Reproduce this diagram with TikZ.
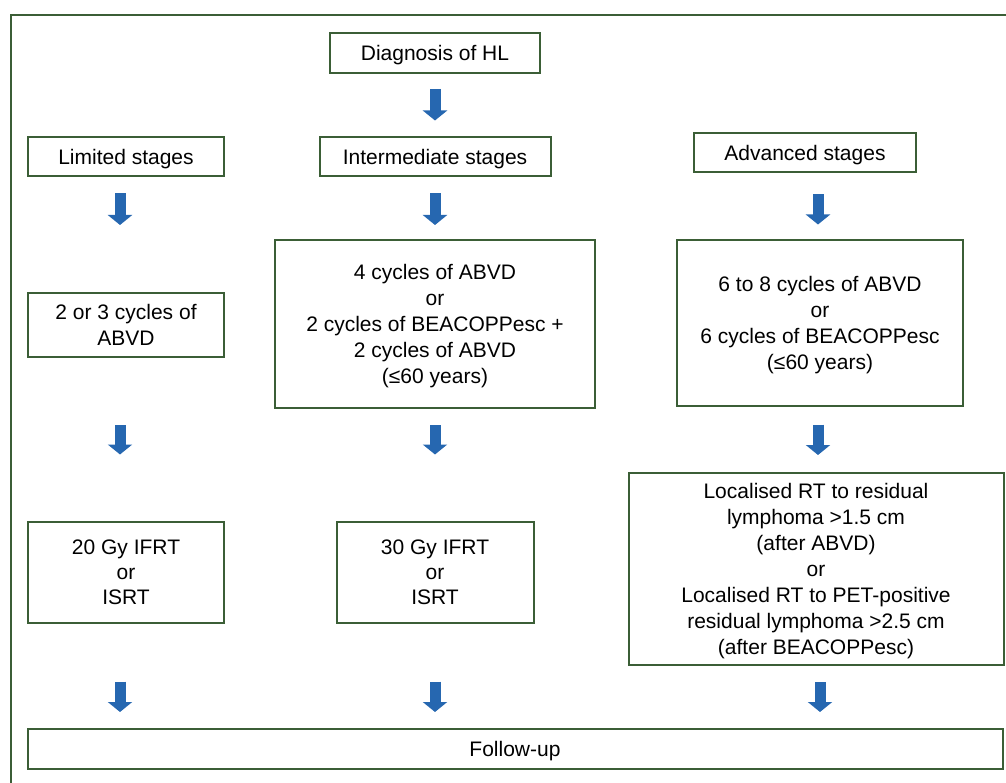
\documentclass[tikz,border=0pt]{standalone}
\usepackage{fontspec}
\setmainfont{Liberation Sans}
\usetikzlibrary{positioning, arrows.meta}
\definecolor{boxgreen}{HTML}{3B5E36}
\definecolor{arrowblue}{HTML}{2667B0}

\begin{document}
\begin{tikzpicture}[x=1pt, y=-1pt, node distance=100pt, on grid,
    box/.style={draw=boxgreen, line width=2pt, align=center, inner sep=0pt,
        text depth=0pt, font=\fontsize{21}{26}\selectfont},
    down/.style={draw=arrowblue, line width=11pt,
        -{Triangle[width=24pt, length=10pt]}}]
    \useasboundingbox (0,0) rectangle (1006,783);
    \draw[boxgreen, line width=2pt] (11,15) rectangle (1030,810);

    \node[box, minimum width=210pt, minimum height=40pt] (diag) at (435,53) {Diagnosis of HL};
    \node[box, minimum width=231pt, minimum height=39pt] (inter) [below=104pt of diag] {Intermediate stages};
    \node[box, minimum width=196pt, minimum height=39pt] (lim) [left=309pt of inter] {Limited stages};
    \node[box, minimum width=222pt, minimum height=39pt] (adv) at (805,153) {Advanced stages};

    \node[box, minimum width=196pt, minimum height=64pt] (lim2) [below=168pt of lim] {2 or 3 cycles of\\ABVD};
    \node[box, minimum width=320pt, minimum height=168pt] (inter2) [below=167pt of inter]
        {4 cycles of ABVD\\or\\2 cycles of BEACOPPesc +\\2 cycles of ABVD\\(≤60 years)};
    \node[box, minimum width=286pt, minimum height=165pt] (adv2) at (820,323)
        {6 to 8 cycles of ABVD\\or\\6 cycles of BEACOPPesc\\(≤60 years)};

    \node[box, minimum width=196pt, minimum height=101pt, font=\fontsize{21}{25}\selectfont] (lim3) [below=247pt of lim2] {20 Gy IFRT\\or\\ISRT};
    \node[box, minimum width=197pt, minimum height=101pt, font=\fontsize{21}{25}\selectfont] (inter3) [below=248pt of inter2] {30 Gy IFRT\\or\\ISRT};
    \node[box, minimum width=375pt, minimum height=192pt] (adv3) [below=246pt of adv2, xshift=-4pt]
        {Localised RT to residual\\lymphoma >1.5 cm\\(after ABVD)\\or\\Localised RT to PET-positive\\residual lymphoma >2.5 cm\\(after BEACOPPesc)};

    \node[box, minimum width=975pt, minimum height=40pt] (follow) at (515,749) {Follow-up};

    \draw[down, shorten <=15pt, shorten >=16pt] (diag) -- (inter);
    \draw[down, transform canvas={xshift=-6pt}, shorten <=16pt, shorten >=67pt] (lim) -- (lim2);
    \draw[down, shorten <=16pt, shorten >=14pt] (inter) -- (inter2);
    \draw[down, transform canvas={xshift=-2pt}, shorten <=21pt, shorten >=15pt] (adv2 |- adv.south) -- (adv2.north);
    \draw[down, transform canvas={xshift=-6pt}, shorten <=67pt, shorten >=66pt] (lim2) -- (lim3);
    \draw[down, shorten <=16pt, shorten >=66pt] (inter2.south) -- (inter3.north -| inter2.south);
    \draw[down, transform canvas={xshift=-2pt}, shorten <=18pt, shorten >=17pt] (adv2.south) -- (adv3.north -| adv2.south);
    \draw[down, transform canvas={xshift=-6pt}, shorten <=58pt, shorten >=16pt] (lim3.south) -- (follow.north -| lim3.south);
    \draw[down, shorten <=58pt, shorten >=16pt] (inter2.south |- inter3.south) -- (follow.north -| inter2.south);
    \draw[down, transform canvas={xshift=4pt}, shorten <=16pt, shorten >=16pt] (adv3.south) -- (follow.north -| adv3.south);
\end{tikzpicture}
\end{document}
